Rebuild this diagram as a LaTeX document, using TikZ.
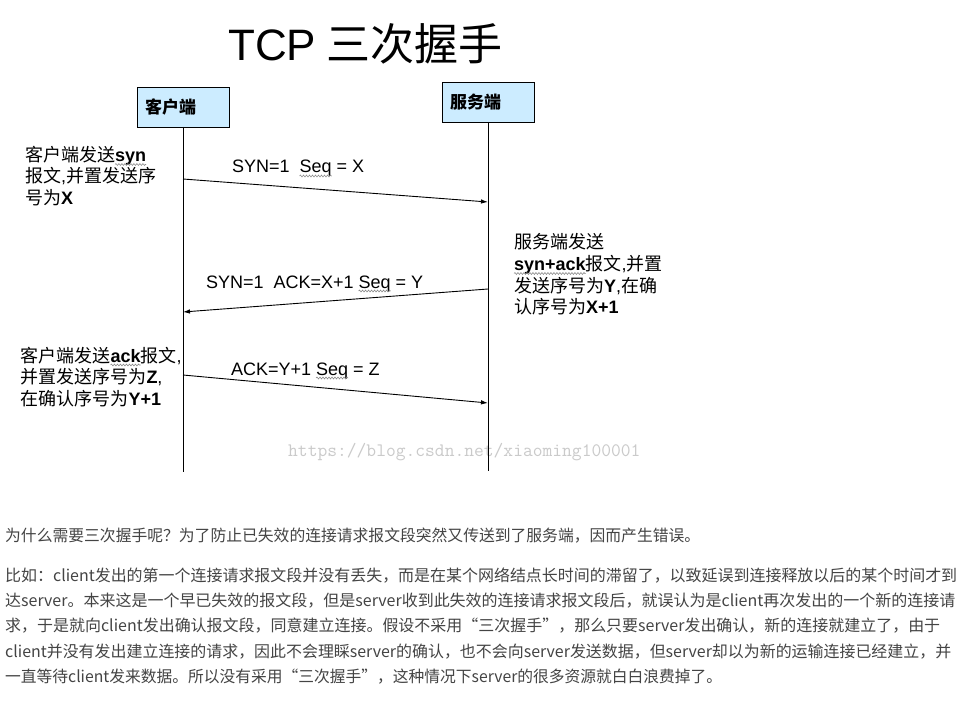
\documentclass[tikz,border=0pt]{standalone}
\usepackage{fontspec}
\setmainfont{Noto Sans CJK SC}
\newfontfamily\arial{Liberation Sans}
\usetikzlibrary{arrows.meta,decorations.pathmorphing}
\definecolor{boxblue}{HTML}{CCECFF}
\definecolor{paragray}{HTML}{444444}
\definecolor{markgray}{HTML}{CACACA}
\definecolor{wavegray}{HTML}{8A8A8A}
\newcommand\lb[1]{{\arial\bfseries #1}}
\begin{document}
\begin{tikzpicture}[x=1pt,y=-1pt,
  actor/.style={draw=black, line width=0.8pt, fill=boxblue, anchor=north west, outer sep=0pt,
    minimum width=92pt, minimum height=40pt, inner xsep=8pt, text width=76pt, align=left,
    font=\fontsize{17}{17}\selectfont\bfseries},
  lifeline/.style={line width=1pt},
  msg/.style={line width=0.9pt, -{Latex[length=7pt,width=4.5pt]}},
  lbl/.style={anchor=base west, inner sep=0pt, outer sep=0pt, font=\arial\fontsize{18}{18}\selectfont},
  note/.style={anchor=base west, inner sep=0pt, outer sep=0pt, font=\fontsize{18}{18}\selectfont},
  para/.style={anchor=base west, inner sep=0pt, text=paragray, font=\fontsize{16}{16}\selectfont},
  wave/.style={draw=wavegray, line width=0.6pt, decorate,
    decoration={snake, amplitude=0.9pt, segment length=3pt}}]
\useasboundingbox[fill=white] (0,0) rectangle (965,708);

% title
\node[anchor=base west, inner sep=0pt, font=\fontsize{44}{44}\selectfont] (title) at (228,61) {{\arial TCP} 三次握手};

% watermark
\node[anchor=base west, inner sep=0pt, text=markgray, font=\ttfamily\fontsize{19}{19}\selectfont] (wm) at (288,456) {https://blog.csdn.net/xiaoming100001};

% actors
\node[actor] (client) at (137,87) {客户端};
\node[actor] (server) at (442,82) {服务端};
\coordinate (cend) at (183,472);
\coordinate (send) at (488,471);
\draw[lifeline] (client.south) -- (cend);
\draw[lifeline] (server.south) -- (send);

% message end points
\coordinate (c1) at (183,179);
\coordinate (s1) at (488,202);
\coordinate (s2) at (488,289);
\coordinate (c2) at (183,312);
\coordinate (c3) at (183,375);
\coordinate (s3) at (488,403);
\draw[msg] (c1) -- (s1);
\draw[msg] (s2) -- (c2);
\draw[msg] (c3) -- (s3);

% message labels
\node[lbl] (m1a) at (232,173) {SYN=1\ \ \mbox{}};
\node[lbl] (m1b) at (m1a.base east) {Seq};
\node[lbl] (m1c) at (m1b.base east) {\ = X};
\node[lbl] (m2a) at (206,288) {SYN=1\ \ ACK=X+1\ \mbox{}};
\node[lbl] (m2b) at (m2a.base east) {Seq};
\node[lbl] (m2c) at (m2b.base east) {\ = Y};
\node[lbl] (m3a) at (231,375) {ACK=Y+1\ \mbox{}};
\node[lbl] (m3b) at (m3a.base east) {Seq};
\node[lbl] (m3c) at (m3b.base east) {\ = Z};

% notes left 1
\node[note] (n1a) at (25,161.5) {客户端发送};
\node[note] (n1s) at (n1a.base east) {\lb{syn}};
\node[note] (n1b) at (25,183) {报文{\arial ,}并置发送序};
\node[note] (n1c) at (25,204.5) {号为\lb{X}};

% notes right
\node[note] (n2a) at (514,249) {服务端发送};
\node[note] (n2s) at (514,270.5) {\lb{syn+ack}};
\node[note] (n2b) at (n2s.base east) {报文{\arial ,}并置};
\node[note] (n2c) at (514,292) {发送序号为\lb{Y}{\arial ,}在确};
\node[note] (n2d) at (514,313.5) {认序号为\lb{X+1}};

% notes left 3
\node[note] (n3a) at (20.5,362) {客户端发送};
\node[note] (n3s) at (n3a.base east) {\lb{ack}};
\node[note] (n3t) at (n3s.base east) {报文{\arial ,}};
\node[note] (n3b) at (20.5,383.5) {并置发送序号为\lb{Z}{\arial ,}};
\node[note] (n3c) at (20.5,405.5) {在确认序号为\lb{Y+1}};

% spell-check wavy underlines
\foreach \w in {m1b,m2b,m3b,n1s,n2s,n3s}
  \path[wave] ([yshift=-3pt]\w.base west) -- ([yshift=-3pt]\w.base east);

% paragraphs
\node[para] (p1) at (5,541) {\resizebox{695pt}{\height}{为什么需要三次握手呢？为了防止已失效的连接请求报文段突然又传送到了服务端，因而产生错误。}};
\node[para] (p2a) at (5,581) {\resizebox{952pt}{\height}{比如：client发出的第一个连接请求报文段并没有丢失，而是在某个网络结点长时间的滞留了，以致延误到连接释放以后的某个时间才到}};
\node[para] (p2b) at (5,606) {\resizebox{950pt}{\height}{达server。本来这是一个早已失效的报文段，但是server收到此失效的连接请求报文段后，就误认为是client再次发出的一个新的连接请}};
\node[para] (p2c) at (5,631) {\resizebox{935pt}{\height}{求，于是就向client发出确认报文段，同意建立连接。假设不采用“三次握手”，那么只要server发出确认，新的连接就建立了，由于}};
\node[para] (p2d) at (5,657) {\resizebox{946pt}{\height}{client并没有发出建立连接的请求，因此不会理睬server的确认，也不会向server发送数据，但server却以为新的运输连接已经建立，并}};
\node[para] (p2e) at (5,682) {\resizebox{717pt}{\height}{一直等待client发来数据。所以没有采用“三次握手”，这种情况下server的很多资源就白白浪费掉了。}};
\end{tikzpicture}
\end{document}
